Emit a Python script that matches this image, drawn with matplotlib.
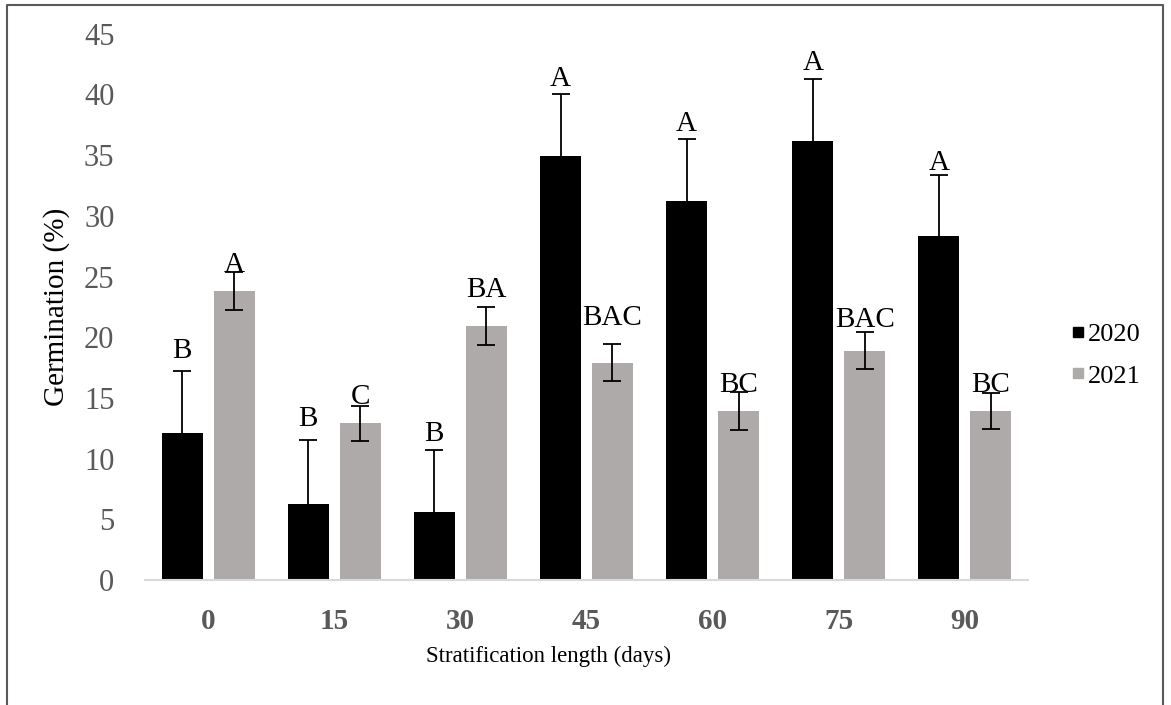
import matplotlib.pyplot as plt
import numpy as np
from matplotlib.lines import Line2D

plt.rcParams['font.family'] = ['Liberation Serif', 'DejaVu Serif']

days = ['0', '15', '30', '45', '60', '75', '90']
germ_2020 = [12.1, 6.3, 5.6, 34.9, 31.2, 36.2, 28.3]
err_2020 = [5.1, 5.2, 5.1, 5.1, 5.1, 5.1, 5.1]
germ_2021 = [23.8, 12.9, 20.9, 17.9, 13.9, 18.9, 13.9]
err_2021 = [1.55, 1.45, 1.55, 1.5, 1.55, 1.5, 1.5]
letters_2020 = ['B', 'B', 'B', 'A', 'A', 'A', 'A']
letters_2021 = ['A', 'C', 'BA', 'BAC', 'BC', 'BAC', 'BC']
# letter baselines
lab_y_2020 = [18.3, 12.7, 11.45, 40.7, 37.0, 42.0, 33.8]
lab_y_2021 = [25.4, 14.5, 23.3, 21.0, 15.5, 20.8, 15.5]

c20 = '#000000'
c21 = '#AEAAAA'
tick_grey = '#595959'

fig = plt.figure(figsize=(11.71, 7.05), dpi=100)
ax = fig.add_axes([145/1171, 1-580/705, (1028-145)/1171, (580-33.7)/705])

x = np.arange(len(days))
w = 0.325
off = 0.206
ax.bar(x - off, germ_2020, w, color=c20, zorder=2)
ax.bar(x + off, germ_2021, w, color=c21, zorder=2)
ax.errorbar(x - off, germ_2020, yerr=err_2020, fmt='none', ecolor='black',
            elinewidth=1.3, capsize=6.5, capthick=1.3, zorder=3)
ax.errorbar(x + off, germ_2021, yerr=err_2021, fmt='none', ecolor='black',
            elinewidth=1.3, capsize=6.5, capthick=1.3, zorder=3)

for i in range(len(days)):
    ax.text(x[i] - off, lab_y_2020[i], letters_2020[i], ha='center',
            va='baseline', fontsize=21, color='black')
    ax.text(x[i] + off, lab_y_2021[i], letters_2021[i], ha='center',
            va='baseline', fontsize=21, color='black')

ax.set_xlim(-0.5, 6.5)
ax.set_ylim(0, 45)
ax.set_yticks(range(0, 46, 5))
ax.set_xticks(x)
ax.set_xticklabels(days, fontsize=21, fontweight='bold', color=tick_grey)
ax.tick_params(axis='y', labelsize=22, labelcolor=tick_grey, length=0, pad=22)
ax.tick_params(axis='x', length=0, pad=20)
for s in ['top', 'right', 'left']:
    ax.spines[s].set_visible(False)
ax.spines['bottom'].set_color('#D9D9D9')
ax.spines['bottom'].set_linewidth(1.5)

ax.set_xlabel('Stratification length (days)', fontsize=16.5)
ax.xaxis.set_label_coords((549-145)/(1028-145), -(646-580)/(580-33.7))
ax.set_ylabel('Germination (%)', fontsize=21)
ax.yaxis.set_label_coords(-(145-70)/(1028-145), 0.5)

handles = [Line2D([], [], marker='s', linestyle='none', color=c20, markersize=7),
           Line2D([], [], marker='s', linestyle='none', color=c21, markersize=7)]
fig.legend(handles, ['2020', '2021'], loc='center left',
           bbox_to_anchor=(1046/1171, 1-355/705), frameon=False, fontsize=19,
           handletextpad=0.1, labelspacing=0.7, handlelength=0.6)

# outer frame (open at the bottom)
fx = [7/1171, 7/1171, 1163/1171, 1163/1171]
fy = [0, 1-5/705, 1-5/705, 0]
fig.add_artist(Line2D(fx, fy, color=tick_grey, linewidth=1.5, transform=fig.transFigure))

fig.savefig('out.png', dpi=100)
